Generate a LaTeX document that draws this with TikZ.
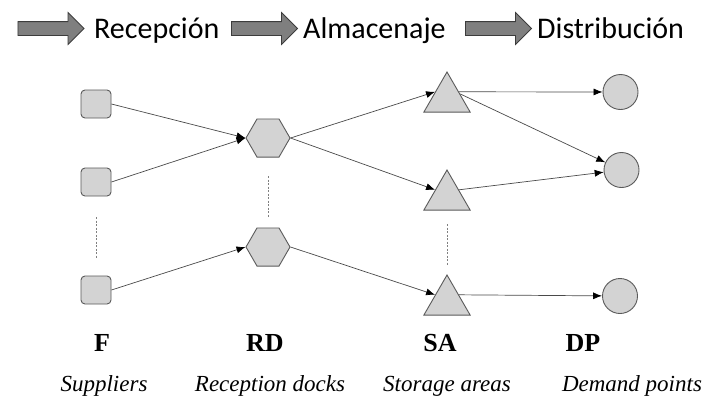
\documentclass[tikz,border=0pt]{standalone}
\usepackage{fontspec}
\setmainfont{Liberation Serif}
\newfontfamily\calib{Carlito}
\usetikzlibrary{shapes.geometric,shapes.arrows,arrows.meta}
\definecolor{nodefill}{HTML}{D3D3D3}
\definecolor{nodeline}{HTML}{5A5A5A}
\definecolor{edgeline}{HTML}{4A4A4A}
\definecolor{bigfill}{HTML}{7F7F7F}
\definecolor{bigline}{HTML}{3C3C3C}
\begin{document}
\begin{tikzpicture}[x=1pt,y=-1pt,
  sq/.style={draw=nodeline, fill=nodefill, line width=0.9pt, rounded corners=4pt,
    minimum width=30pt, minimum height=28pt, inner sep=0pt},
  hexa/.style={regular polygon, regular polygon sides=6, draw=nodeline, fill=nodefill,
    line width=0.9pt, minimum size=44pt, inner sep=0pt},
  tri/.style={regular polygon, regular polygon sides=3, draw=nodeline, fill=nodefill,
    line width=0.9pt, minimum size=53.4pt, inner sep=0pt},
  dpc/.style={circle, draw=nodeline, fill=nodefill, line width=0.9pt,
    minimum size=35pt, inner sep=0pt},
  flow/.style={draw=edgeline, line width=0.7pt, -{Latex[length=9pt,width=7pt,color=black]}},
  dots/.style={draw=gray, line width=0.6pt, dash pattern=on 2pt off 1.5pt},
  bigarrow/.style={single arrow, draw=bigline, fill=bigfill, line width=0.8pt,
    minimum height=66pt, inner sep=6.5pt, single arrow head extend=9pt},
  head/.style={anchor=base west, inner sep=0pt, font=\calib\fontsize{30}{36}\selectfont},
  code/.style={anchor=base, inner sep=0pt, font=\bfseries\fontsize{26}{31}\selectfont},
  desc/.style={anchor=base, inner sep=0pt, font=\itshape\fontsize{23}{27}\selectfont}
]
\useasboundingbox[fill=white] (0,0) rectangle (706,397);

% top banner
\node[bigarrow] (a1) at (47.5,28.5) {};
\node[head] (t1) at (94,38.5) {Recepción};
\node[bigarrow] (a2) at (261,28.5) {};
\node[head] (t2) at (303,38.5) {Almacenaje};
\node[bigarrow] (a3) at (495,28.5) {};
\node[head] (t3) at (537,38.5) {Distribución};

% nodes
\node[sq] (F1) at (96,104) {};
\node[sq] (F2) at (96,182) {};
\node[sq] (F3) at (96,290) {};
\node[hexa] (RD1) at (268,138) {};
\node[hexa] (RD2) at (268,247) {};
\node[tri] (SA1) at (447,98.7) {};
\node[tri] (SA2) at (447,196.7) {};
\node[tri] (SA3) at (447,301.7) {};
\node[dpc] (DP1) at (620.5,92) {};
\node[dpc] (DP2) at (621.5,170) {};
\node[dpc] (DP3) at (620,296) {};

% dotted continuation marks
\coordinate (d1a) at (96,217);
\coordinate (d1b) at (96,258);
\coordinate (d2a) at (268,176);
\coordinate (d2b) at (268,217);
\coordinate (d3a) at (447,224);
\coordinate (d3b) at (447,265);
\draw[dots] (d1a) -- (d1b);
\draw[dots] (d2a) -- (d2b);
\draw[dots] (d3a) -- (d3b);

% connectors
\draw[flow] (F1.east) -- (RD1.west);
\draw[flow] (F2.east) -- (RD1.west);
\draw[flow] (F3.east) -- (RD2.west);
\draw[flow] (RD1.east) -- (SA1.150);
\draw[flow] (RD1.east) -- (SA2.150);
\draw[flow] (RD2.east) -- (SA3.150);
\draw[flow] (SA1.30) -- (DP1);
\draw[flow] (SA1.20) -- (DP2);
\draw[flow] (SA2.30) -- (DP2);
\draw[flow] (SA3.30) -- (DP3);

% labels
\node[code] (lF) at (102,351) {F};
\node[code] (lRD) at (265,351) {RD};
\node[code] (lSA) at (440,351) {SA};
\node[code] (lDP) at (583,351) {DP};
\node[desc] (sF) at (104,391) {Suppliers};
\node[desc] (sRD) at (270,391) {Reception docks};
\node[desc] (sSA) at (447,391) {Storage areas};
\node[desc] (sDP) at (632,391) {Demand points};
\end{tikzpicture}
\end{document}
